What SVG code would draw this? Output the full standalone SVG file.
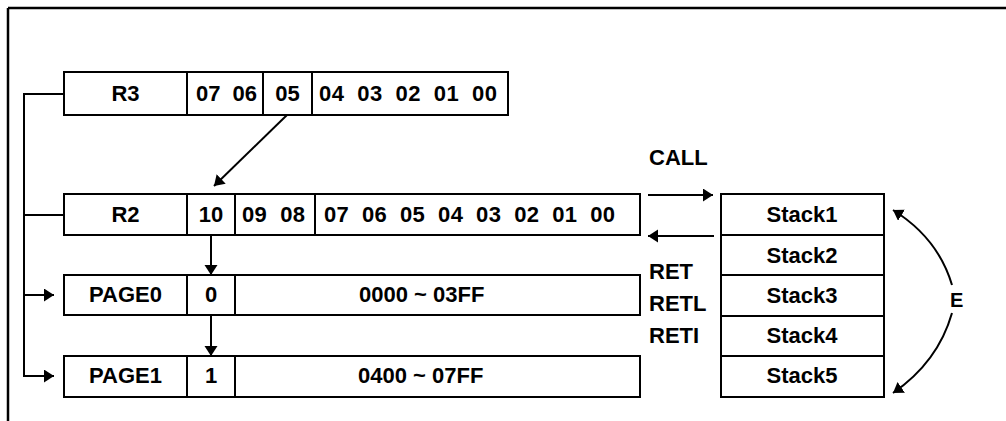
<svg xmlns="http://www.w3.org/2000/svg" width="1006" height="421" viewBox="0 0 1006 421">
<style>
  .box { fill: #fff; stroke: #000; stroke-width: 2; }
  .div { stroke: #000; stroke-width: 2; fill: none; }
  .ln { stroke: #000; stroke-width: 2; fill: none; }
  text { font-family: "Liberation Sans", Arial, sans-serif; font-weight: bold; font-size: 22px; fill: #000; }
  .c { text-anchor: middle; }
</style>
<defs>
  <marker id="ah" markerUnits="userSpaceOnUse" markerWidth="12" markerHeight="14" refX="10" refY="6.5" orient="auto">
    <path d="M0,0 L10,6.5 L0,13 z" fill="#000"/>
  </marker>
</defs>
<rect x="0" y="0" width="1006" height="421" fill="#fff"/>
<g id="frame">
  <line x1="8" y1="8" x2="1006" y2="8" stroke="#000" stroke-width="2.5"/>
  <line x1="8" y1="8" x2="8" y2="421" stroke="#000" stroke-width="2.5"/>
</g>
<g id="R3">
  <rect class="box" x="64" y="72" width="444" height="43"/>
  <line class="div" x1="187" y1="72" x2="187" y2="115"/>
  <line class="div" x1="263" y1="72" x2="263" y2="115"/>
  <line class="div" x1="312" y1="72" x2="312" y2="115"/>
  <text class="c" x="125.5" y="101">R3</text>
  <text x="196" y="101" xml:space="preserve" textLength="61" lengthAdjust="spacing">07  06</text>
  <text class="c" x="287.5" y="101">05</text>
  <text x="319" y="101" xml:space="preserve" textLength="178" lengthAdjust="spacing">04  03  02  01  00</text>
</g>
<g id="R2">
  <rect class="box" x="64" y="194" width="576" height="41"/>
  <line class="div" x1="187" y1="194" x2="187" y2="235"/>
  <line class="div" x1="235" y1="194" x2="235" y2="235"/>
  <line class="div" x1="315" y1="194" x2="315" y2="235"/>
  <text class="c" x="125.5" y="222">R2</text>
  <text class="c" x="211" y="222">10</text>
  <text x="242" y="222" xml:space="preserve" textLength="63" lengthAdjust="spacing">09  08</text>
  <text x="324" y="222" xml:space="preserve" textLength="291" lengthAdjust="spacing">07  06  05  04  03  02  01  00</text>
</g>
<g id="PAGE0">
  <rect class="box" x="64" y="275" width="576" height="40"/>
  <line class="div" x1="187" y1="275" x2="187" y2="315"/>
  <line class="div" x1="235" y1="275" x2="235" y2="315"/>
  <text class="c" x="125.5" y="302">PAGE0</text>
  <text class="c" x="211" y="302">0</text>
  <text x="359" y="302">0000 ~ 03FF</text>
</g>
<g id="PAGE1">
  <rect class="box" x="64" y="356" width="576" height="41"/>
  <line class="div" x1="187" y1="356" x2="187" y2="397"/>
  <line class="div" x1="235" y1="356" x2="235" y2="397"/>
  <text class="c" x="125.5" y="383">PAGE1</text>
  <text class="c" x="211" y="383">1</text>
  <text x="358" y="383">0400 ~ 07FF</text>
</g>
<g id="stack">
  <rect class="box" x="721" y="194" width="163" height="203"/>
  <line class="div" x1="721" y1="235" x2="884" y2="235"/>
  <line class="div" x1="721" y1="275" x2="884" y2="275"/>
  <line class="div" x1="721" y1="316" x2="884" y2="316"/>
  <line class="div" x1="721" y1="356" x2="884" y2="356"/>
  <text class="c" x="802" y="222">Stack1</text>
  <text class="c" x="802" y="263">Stack2</text>
  <text class="c" x="802" y="303">Stack3</text>
  <text class="c" x="802" y="343">Stack4</text>
  <text class="c" x="802" y="383">Stack5</text>
</g>
<g id="labels">
  <text x="649" y="165">CALL</text>
  <text x="649" y="279">RET</text>
  <text x="649" y="311">RETL</text>
  <text x="649" y="343">RETI</text>
  <text x="950" y="307" style="font-size:20px">E</text>
</g>
<g id="connectors">
  <polyline class="ln" points="64,94 24,94 24,376 54,376" marker-end="url(#ah)"/>
  <line class="ln" x1="24" y1="215" x2="64" y2="215"/>
  <line class="ln" x1="24" y1="295" x2="54" y2="295" marker-end="url(#ah)"/>
  <line class="ln" x1="287" y1="115" x2="214" y2="186" marker-end="url(#ah)"/>
  <line class="ln" x1="211" y1="235" x2="211" y2="275" marker-end="url(#ah)"/>
  <line class="ln" x1="211" y1="315" x2="211" y2="356" marker-end="url(#ah)"/>
  <line class="ln" x1="648" y1="195" x2="713" y2="195" marker-end="url(#ah)"/>
  <line class="ln" x1="714" y1="236" x2="648" y2="236" marker-end="url(#ah)"/>
  <path class="ln" d="M952,285 Q938,238 893,210" marker-end="url(#ah)"/>
  <path class="ln" d="M952,313 Q938,362 893,393" marker-end="url(#ah)"/>
</g>
</svg>
